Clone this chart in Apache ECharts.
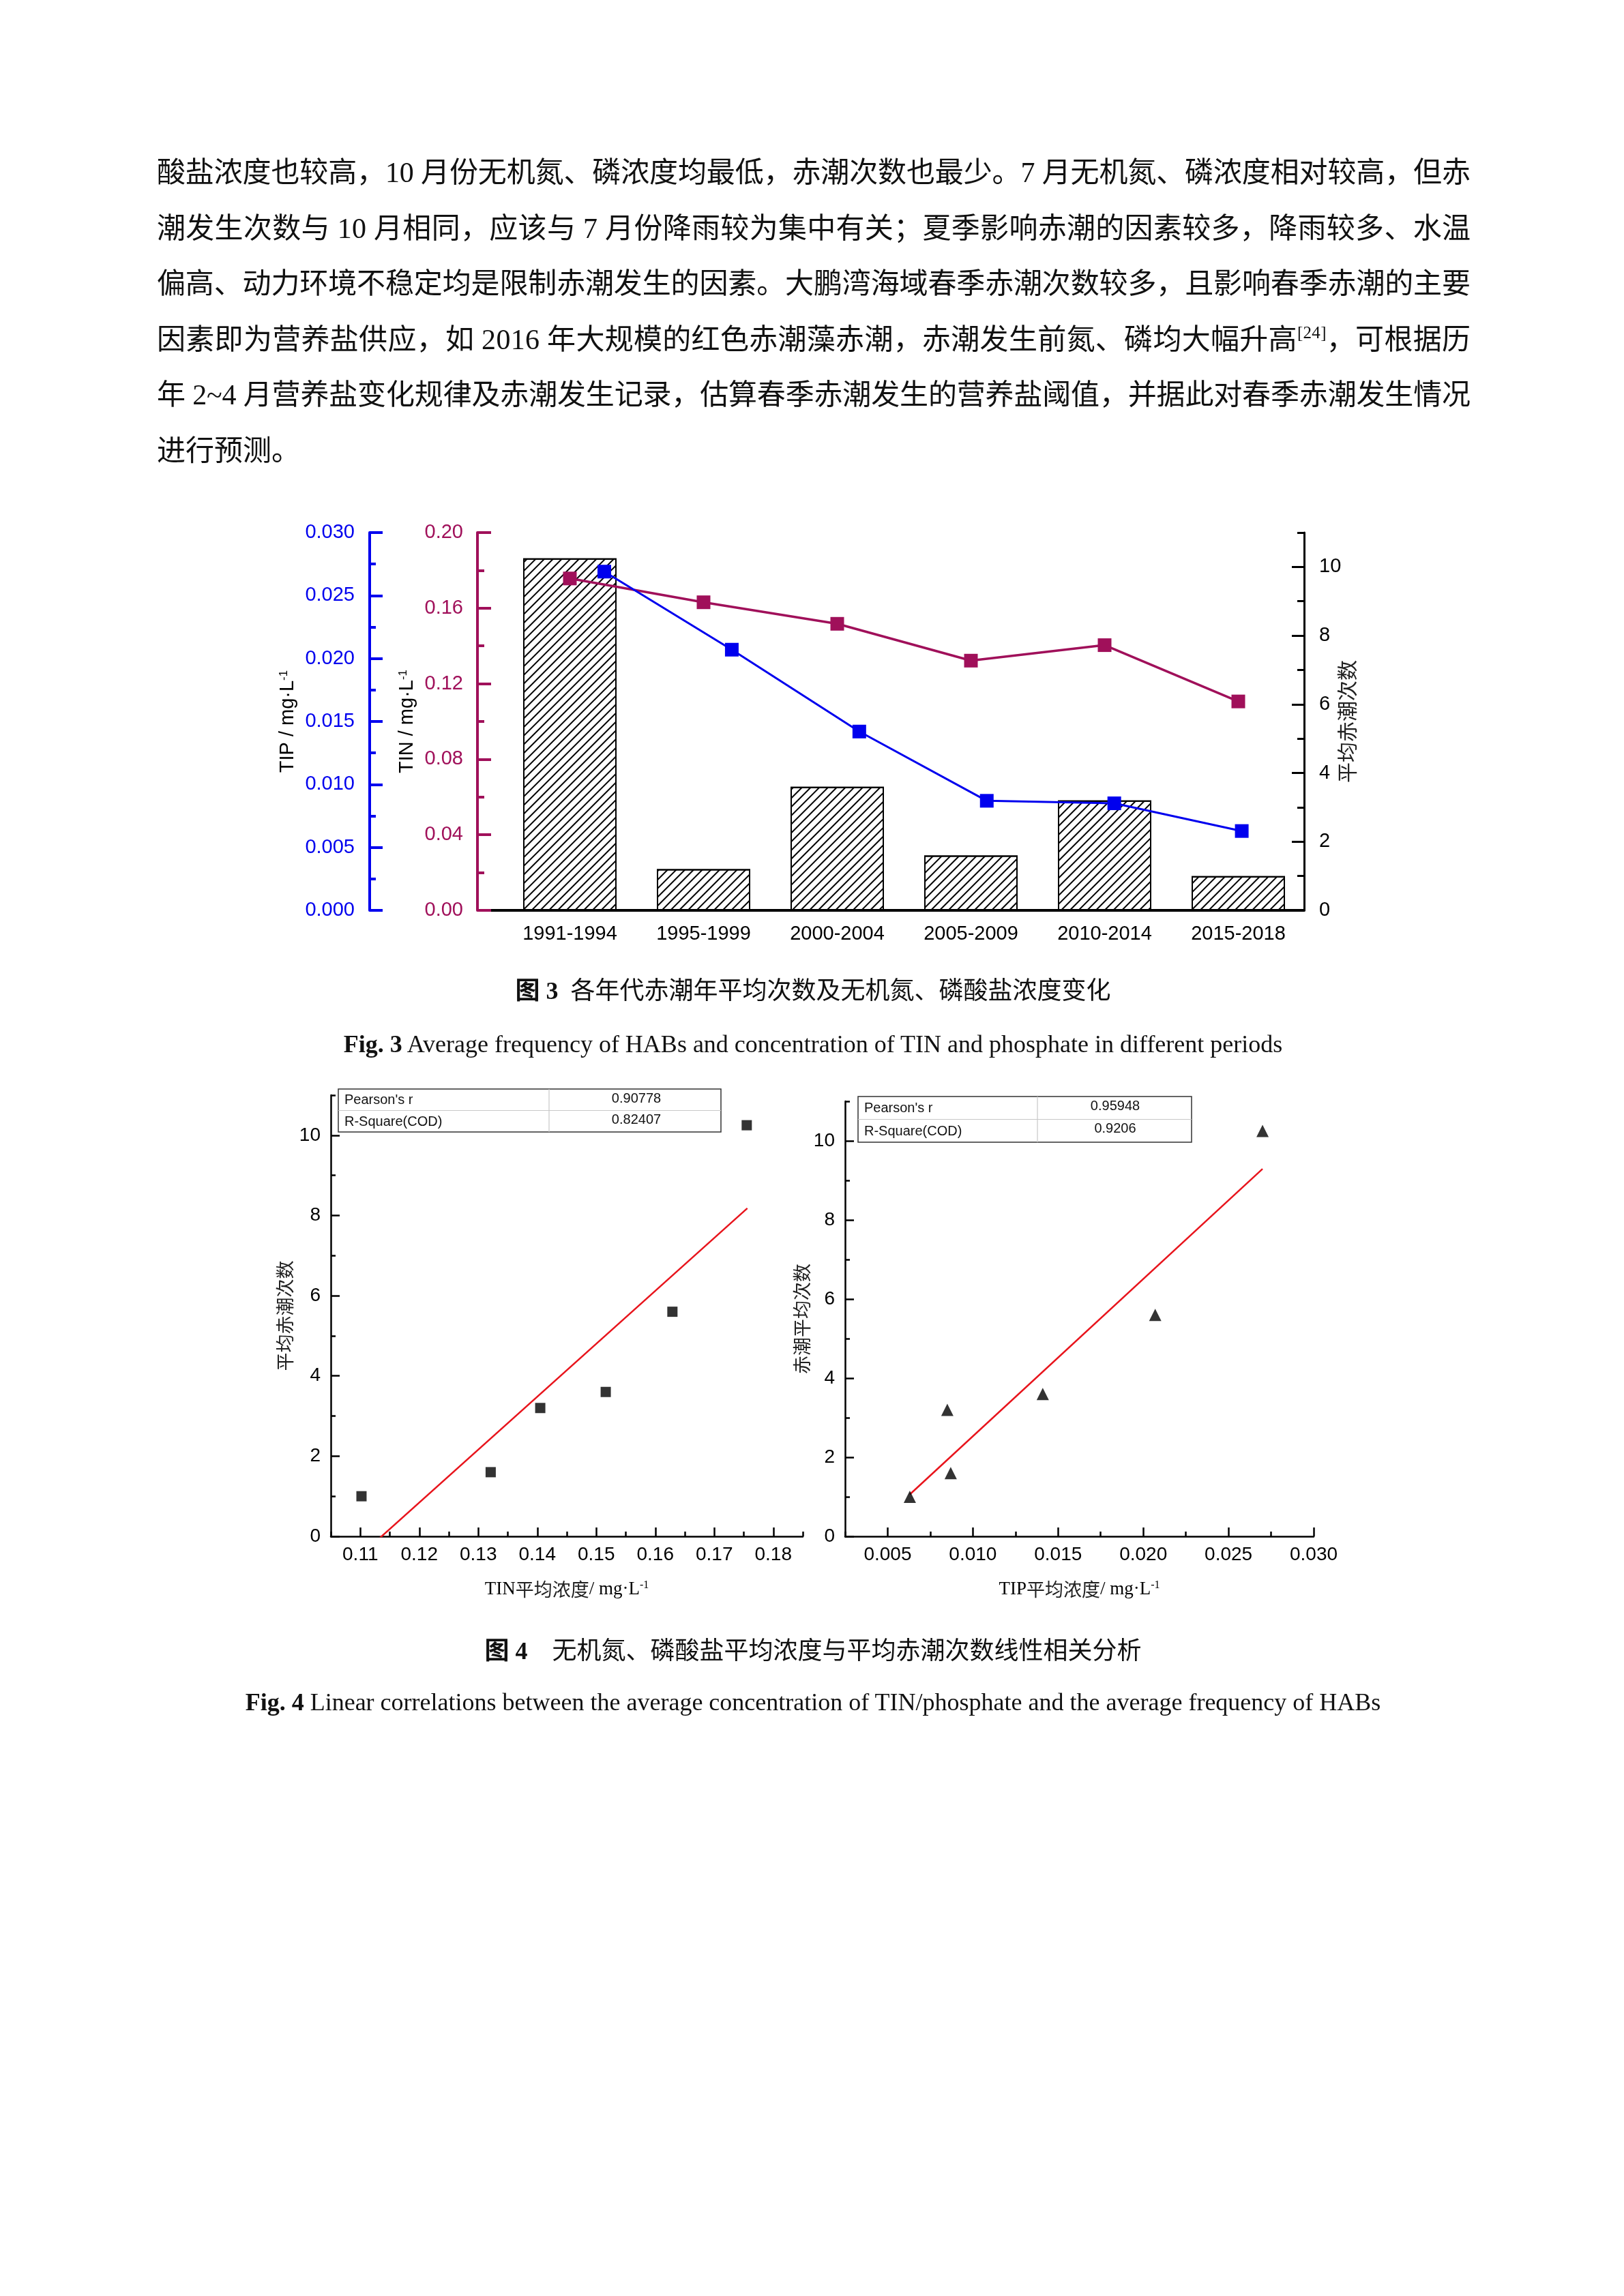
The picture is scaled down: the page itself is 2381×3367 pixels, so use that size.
<!DOCTYPE html>
<html><head><meta charset="utf-8">
<script src="https://cdn.jsdelivr.net/npm/echarts@6/dist/echarts.min.js"></script>
<style>
html,body{margin:0;padding:0;background:#fff;}
#page{position:relative;width:2381px;height:3367px;overflow:hidden;background:#fff;}
#chart{position:absolute;left:0;top:0;width:2381px;height:3367px;}
.t{position:absolute;font-family:"Liberation Serif","Noto Sans CJK SC",serif;color:#111;white-space:nowrap;}
.p{left:230px;font-size:42px;line-height:60px;height:60px;}
.c{left:0;width:2384px;text-align:center;font-size:36px;line-height:44px;}
b{font-weight:bold;}
sup{font-size:25px;vertical-align:16px;line-height:0;}
</style></head>
<body>
<div id="page">
<div id="chart"></div>
<div class="t p j" style="top:223px"><span>酸盐浓度也较高，10 月份无机氮、磷浓度均最低，赤潮次数也最少。7 月无机氮、磷浓度相对较高，但赤</span></div>
<div class="t p j" style="top:305px"><span>潮发生次数与 10 月相同，应该与 7 月份降雨较为集中有关；夏季影响赤潮的因素较多，降雨较多、水温</span></div>
<div class="t p j" style="top:386px"><span>偏高、动力环境不稳定均是限制赤潮发生的因素。大鹏湾海域春季赤潮次数较多，且影响春季赤潮的主要</span></div>
<div class="t p j" style="top:468px"><span>因素即为营养盐供应，如 2016 年大规模的红色赤潮藻赤潮，赤潮发生前氮、磷均大幅升高<sup>[24]</sup>，可根据历</span></div>
<div class="t p j" style="top:549px"><span>年 2~4 月营养盐变化规律及赤潮发生记录，估算春季赤潮发生的营养盐阈值，并据此对春季赤潮发生情况</span></div>
<div class="t p" style="top:631px"><span>进行预测。</span></div>
<div class="t c" style="top:1431px"><b>图 3</b>&nbsp;&nbsp;各年代赤潮年平均次数及无机氮、磷酸盐浓度变化</div>
<div class="t c" style="top:1509px"><b>Fig. 3</b> Average frequency of HABs and concentration of TIN and phosphate in different periods</div>
<div class="t c" style="top:2399px"><b>图 4</b>&nbsp;&nbsp;&nbsp;&nbsp;无机氮、磷酸盐平均浓度与平均赤潮次数线性相关分析</div>
<div class="t c" style="top:2474px"><b>Fig. 4</b> Linear correlations between the average concentration of TIN/phosphate and the average frequency of HABs</div>
</div>
<script>
// ---------- Figure 3 data ----------
const periods = ['1991-1994','1995-1999','2000-2004','2005-2009','2010-2014','2015-2018'];
const habFreq = [10.25, 1.2, 3.6, 1.6, 3.2, 1.0];          // 平均赤潮次数 (bars)
const tinConc = [0.1757, 0.1631, 0.1517, 0.1322, 0.1404, 0.1106]; // TIN mg/L
const tipConc = [0.0269, 0.0207, 0.0142, 0.0087, 0.0085, 0.0063]; // TIP mg/L
const countTicks = [0, 2, 4, 6, 8, 10];
const periodIdx = [0, 1, 2, 3, 4, 5];

// ---------- Figure 4 data ----------
const tinMean = [0.1102, 0.1321, 0.1405, 0.1516, 0.1629, 0.1755];
const freqTin = [1.0, 1.6, 3.2, 3.6, 5.6, 10.25];
const tipMean = [0.0063, 0.0085, 0.0087, 0.0141, 0.0207, 0.0270];
const freqTip = [1.0, 3.2, 1.6, 3.6, 5.6, 10.25];
const tinFitEnds = [[0.1102, -0.45], [0.1756, 8.18]];
const tipFitEnds = [[0.0063, 1.06], [0.0270, 9.29]];
const tinTicks = [0.11, 0.12, 0.13, 0.14, 0.15, 0.16, 0.17, 0.18];
const tipTicks = [0.005, 0.010, 0.015, 0.020, 0.025, 0.030];
const statNames = ["Pearson's r", 'R-Square(COD)'];
const tinStats = ['0.90778', '0.82407'];
const tipStats = ['0.95948', '0.9206'];

// justify paragraph lines to the text block width
function justifyLines() {
  document.querySelectorAll('.j').forEach(el => {
    el.style.letterSpacing = '0px';
    const span = el.firstElementChild;
    const w = span.getBoundingClientRect().width;
    const n = Array.from(span.textContent).length;
    el.style.letterSpacing = ((1926 - w) / (n - 1)) + 'px';
  });
}
justifyLines();
if (document.fonts && document.fonts.ready) document.fonts.ready.then(justifyLines);

const F = 'Liberation Sans';
const SERIF = 'Liberation Serif';
const CJK = 'Noto Sans CJK SC';
const crimson = '#a0105a';
const blue = '#0000ee';

const chart = echarts.init(document.getElementById('chart'), null, {renderer: 'canvas'});

function minorAxis(grid, pos, min, max, interval, len, w) {
  return {
    type: 'value', gridIndex: grid, position: pos, min: min, max: max, interval: interval,
    axisLine: {show: false, onZero: false},
    axisTick: {show: true, inside: true, length: len, lineStyle: {color: '#000', width: w}},
    axisLabel: {show: false}, splitLine: {show: false}
  };
}

const supRich = (fam, size, sup) => ({
  a: {fontFamily: fam, fontSize: size, color: '#000'},
  b: {fontFamily: CJK, fontSize: size, color: '#222'},
  s: {fontFamily: fam, fontSize: sup, color: '#000', verticalAlign: 'top'}
});

function table(x, y, w, h, colX, names, vals, labelX, valX, rowY, valY) {
  const els = [
    {type: 'rect', shape: {x: x, y: y, width: w, height: h}, style: {fill: '#fff', stroke: '#333', lineWidth: 1.5}, z: 10},
    {type: 'line', shape: {x1: x, y1: y + h / 2, x2: x + w, y2: y + h / 2}, style: {stroke: '#c8c8c8', lineWidth: 1.2}, z: 11},
    {type: 'line', shape: {x1: colX, y1: y, x2: colX, y2: y + h}, style: {stroke: '#c8c8c8', lineWidth: 1.2}, z: 11}
  ];
  names.forEach((n, i) => {
    els.push({type: 'text', z: 12, style: {text: n, x: labelX, y: rowY[i], font: '20px "Liberation Sans"', fill: '#111',
      align: 'left', verticalAlign: 'middle', textAlign: 'left', textVerticalAlign: 'middle'}});
    els.push({type: 'text', z: 12, style: {text: vals[i], x: valX, y: valY[i], font: '20px "Liberation Sans"', fill: '#111',
      align: 'center', verticalAlign: 'middle', textAlign: 'center', textVerticalAlign: 'middle'}});
  });
  return els;
}

const option = {
  animation: false,
  backgroundColor: 'transparent',
  grid: [
    {left: 720, top: 781, width: 1192, height: 554},
    {left: 485, top: 1606, width: 692, height: 647},
    {left: 1239, top: 1615, width: 687, height: 638}
  ],
  xAxis: [
    { // Fig3 period axis
      type: 'value', gridIndex: 0, position: 'bottom', min: -0.5893, max: 5.4923,
      axisLine: {show: true, onZero: false, lineStyle: {color: '#000', width: 4}},
      axisTick: {show: false}, splitLine: {show: false},
      axisLabel: {customValues: periodIdx, formatter: v => periods[Math.round(v)] || '',
        fontFamily: F, fontSize: 29, color: '#000', margin: 20}
    },
    { // Fig3 TIP layer x (hidden)
      type: 'value', gridIndex: 0, position: 'bottom', min: -0.8881, max: 5.489, show: false,
      axisLine: {onZero: false}, splitLine: {show: false}
    },
    { // Fig4 left major
      type: 'value', gridIndex: 1, position: 'bottom', min: 0.105, max: 0.185,
      axisLine: {show: true, onZero: false, lineStyle: {color: '#000', width: 2.5}},
      axisTick: {show: true, inside: true, length: 13, customValues: tinTicks, lineStyle: {color: '#000', width: 2.5}},
      axisLabel: {customValues: tinTicks, formatter: v => v.toFixed(2), fontFamily: F, fontSize: 28, color: '#000', margin: 13},
      splitLine: {show: false},
      name: '{a|TIN}{b|平均浓度}{a|/ mg·L}{s|-1}', nameLocation: 'middle', nameGap: 64,
      nameTextStyle: {rich: supRich(SERIF, 27, 16)}
    },
    minorAxis(1, 'bottom', 0.105, 0.185, 0.005, 7, 2.5),
    { // Fig4 right major
      type: 'value', gridIndex: 2, position: 'bottom', min: 0.0025, max: 0.030,
      axisLine: {show: true, onZero: false, lineStyle: {color: '#000', width: 2.5}},
      axisTick: {show: true, inside: true, length: 13, customValues: tipTicks, lineStyle: {color: '#000', width: 2.5}},
      axisLabel: {customValues: tipTicks, formatter: v => v.toFixed(3), fontFamily: F, fontSize: 28, color: '#000', margin: 13},
      splitLine: {show: false},
      name: '{a|TIP}{b|平均浓度}{a|/ mg·L}{s|-1}', nameLocation: 'middle', nameGap: 64,
      nameTextStyle: {rich: supRich(SERIF, 27, 16)}
    },
    minorAxis(2, 'bottom', 0.0025, 0.030, 0.0025, 7, 2.5)
  ],
  yAxis: [
    { // 0: Fig3 count (right)
      type: 'value', gridIndex: 0, position: 'right', min: 0, max: 11,
      axisLine: {show: true, onZero: false, lineStyle: {color: '#000', width: 3}},
      axisTick: {show: true, inside: true, length: 18, customValues: countTicks, lineStyle: {color: '#000', width: 3}},
      axisLabel: {customValues: countTicks, fontFamily: F, fontSize: 29, color: '#000', margin: 22},
      splitLine: {show: false},
      name: '平均赤潮次数', nameLocation: 'middle', nameRotate: 90, nameGap: 48, nameMoveOverlap: false,
      nameTextStyle: {fontFamily: CJK, fontSize: 30, color: '#222'}
    },
    minorAxis(0, 'right', 0, 11, 1, 10, 3),
    { // 2: TIN
      type: 'value', gridIndex: 0, position: 'left', offset: 20, min: 0, max: 0.2, interval: 0.04,
      axisLine: {show: true, onZero: false, lineStyle: {color: crimson, width: 4}},
      axisTick: {show: true, inside: true, length: 20, lineStyle: {color: crimson, width: 4}},
      minorTick: {show: true, splitNumber: 2, length: 10, lineStyle: {color: crimson, width: 4}},
      axisLabel: {formatter: v => v.toFixed(2), fontFamily: F, fontSize: 29, color: crimson, margin: 21},
      splitLine: {show: false},
      name: '{a|TIN / mg·L}{s|-1}', nameLocation: 'middle', nameRotate: 90, nameGap: 88,
      nameTextStyle: {rich: supRich(F, 29, 17)}
    },
    { // 3: TIP
      type: 'value', gridIndex: 0, position: 'left', offset: 178, min: 0, max: 0.03, interval: 0.005,
      axisLine: {show: true, onZero: false, lineStyle: {color: blue, width: 4}},
      axisTick: {show: true, inside: true, length: 19, lineStyle: {color: blue, width: 4}},
      minorTick: {show: true, splitNumber: 2, length: 9, lineStyle: {color: blue, width: 4}},
      axisLabel: {formatter: v => v.toFixed(3), fontFamily: F, fontSize: 29, color: blue, margin: 22},
      splitLine: {show: false},
      name: '{a|TIP / mg·L}{s|-1}', nameLocation: 'middle', nameRotate: 90, nameGap: 103,
      nameTextStyle: {rich: supRich(F, 29, 17)}
    },
    { // 4: Fig4 left y
      type: 'value', gridIndex: 1, position: 'left', min: 0, max: 11,
      axisLine: {show: true, onZero: false, lineStyle: {color: '#000', width: 2.5}},
      axisTick: {show: true, inside: true, length: 13, customValues: countTicks, lineStyle: {color: '#000', width: 2.5}},
      axisLabel: {customValues: countTicks, fontFamily: F, fontSize: 28, color: '#000', margin: 15},
      splitLine: {show: false},
      name: '平均赤潮次数', nameLocation: 'middle', nameRotate: 90, nameGap: 54,
      nameTextStyle: {fontFamily: CJK, fontSize: 27, color: '#222'}
    },
    minorAxis(1, 'left', 0, 11, 1, 7, 2.5),
    { // 6: Fig4 right y
      type: 'value', gridIndex: 2, position: 'left', min: 0, max: 11,
      axisLine: {show: true, onZero: false, lineStyle: {color: '#000', width: 2.5}},
      axisTick: {show: true, inside: true, length: 13, customValues: countTicks, lineStyle: {color: '#000', width: 2.5}},
      axisLabel: {customValues: countTicks, fontFamily: F, fontSize: 28, color: '#000', margin: 15},
      splitLine: {show: false},
      name: '赤潮平均次数', nameLocation: 'middle', nameRotate: 90, nameGap: 49,
      nameTextStyle: {fontFamily: CJK, fontSize: 27, color: '#222'}
    },
    minorAxis(2, 'left', 0, 11, 1, 7, 2.5)
  ],
  series: [
    {
      type: 'bar', xAxisIndex: 0, yAxisIndex: 0, barWidth: 137, z: 1,
      data: habFreq.map((v, i) => [periodIdx[i], v]),
      itemStyle: {color: '#fff', borderColor: '#000', borderWidth: 2,
        decal: {symbol: 'rect', symbolSize: 1, dashArrayX: [1, 0], dashArrayY: [1.6, 7],
          rotation: -Math.PI / 4, color: '#000'}}
    },
    {
      type: 'line', xAxisIndex: 0, yAxisIndex: 2, z: 3,
      data: tinConc.map((v, i) => [periodIdx[i], v]),
      symbol: 'rect', symbolSize: 20, itemStyle: {color: crimson},
      lineStyle: {color: crimson, width: 3.5}
    },
    {
      type: 'line', xAxisIndex: 1, yAxisIndex: 3, z: 4,
      data: tipConc.map((v, i) => [periodIdx[i], v]),
      symbol: 'rect', symbolSize: 20, itemStyle: {color: blue},
      lineStyle: {color: blue, width: 3}
    },
    {
      type: 'line', xAxisIndex: 2, yAxisIndex: 4, data: tinFitEnds, symbol: 'none', clip: true,
      lineStyle: {color: '#e8141c', width: 2.5}, z: 2
    },
    {
      type: 'scatter', xAxisIndex: 2, yAxisIndex: 4, symbol: 'rect', symbolSize: 15,
      data: tinMean.map((x, i) => [x, freqTin[i]]), itemStyle: {color: '#000'}, z: 3
    },
    {
      type: 'line', xAxisIndex: 4, yAxisIndex: 6, data: tipFitEnds, symbol: 'none', clip: true,
      lineStyle: {color: '#e8141c', width: 2.5}, z: 2
    },
    {
      type: 'scatter', xAxisIndex: 4, yAxisIndex: 6, symbol: 'triangle', symbolSize: 18,
      data: tipMean.map((x, i) => [x, freqTip[i]]), itemStyle: {color: '#000'}, z: 3
    }
  ],
  graphic: [].concat(
    table(496, 1597, 561, 63, 805, statNames, tinStats, 505, 933, [1613, 1645], [1611, 1642]),
    table(1258, 1608, 489, 67, 1521, statNames, tipStats, 1267, 1635, [1625, 1659], [1622, 1655])
  )
};
chart.setOption(option);
</script>
</body></html>
